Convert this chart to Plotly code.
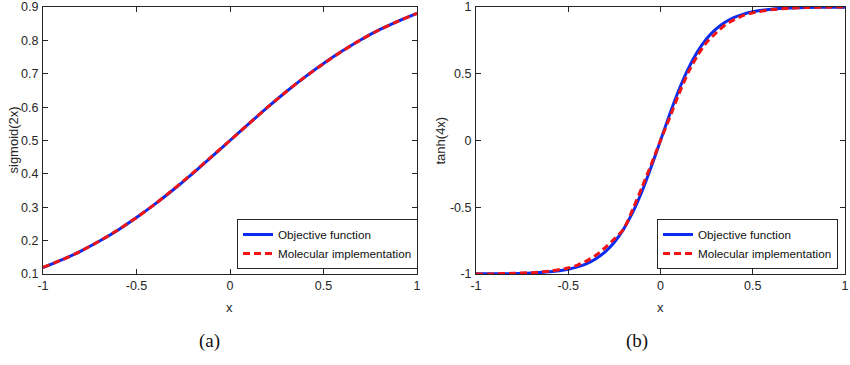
import plotly.graph_objects as go

# ---------------- data ----------------
x_sig = [-1.0, -0.9, -0.8, -0.7, -0.6, -0.5, -0.4, -0.3, -0.2, -0.1, 0.0,
         0.1, 0.2, 0.3, 0.4, 0.5, 0.6, 0.7, 0.8, 0.9, 1.0]
sig_objective = [0.119, 0.142, 0.168, 0.198, 0.231, 0.269, 0.310, 0.354, 0.401, 0.450, 0.500,
                 0.550, 0.599, 0.646, 0.690, 0.731, 0.768, 0.802, 0.832, 0.858, 0.881]
sig_molecular = [0.120, 0.142, 0.168, 0.198, 0.232, 0.269, 0.310, 0.355, 0.402, 0.451, 0.500,
                 0.550, 0.599, 0.646, 0.690, 0.730, 0.768, 0.802, 0.832, 0.858, 0.881]

x_tanh = [-1.0, -0.9, -0.8, -0.7, -0.6, -0.5, -0.45, -0.4, -0.35, -0.3, -0.25, -0.2, -0.15,
          -0.1, -0.05, 0.0, 0.05, 0.1, 0.15, 0.2, 0.25, 0.3, 0.35, 0.4, 0.45, 0.5,
          0.6, 0.7, 0.8, 0.9, 1.0]
tanh_objective = [-0.999, -0.998, -0.997, -0.993, -0.984, -0.964, -0.947, -0.922, -0.885, -0.834,
                  -0.762, -0.664, -0.537, -0.380, -0.197, 0.000, 0.197, 0.380, 0.537, 0.664,
                  0.762, 0.834, 0.885, 0.922, 0.947, 0.964, 0.984, 0.993, 0.997, 0.998, 0.999]
tanh_molecular = [-1.000, -0.999, -0.995, -0.990, -0.978, -0.955, -0.933, -0.902, -0.860, -0.803,
                  -0.737, -0.665, -0.515, -0.350, -0.178, 0.000, 0.172, 0.350, 0.508, 0.635,
                  0.735, 0.805, 0.865, 0.905, 0.937, 0.957, 0.979, 0.991, 0.997, 0.999, 1.000]

series_names = ["Objective function", "Molecular implementation"]
x_ticks = [-1, -0.5, 0, 0.5, 1]
x_tick_text = ["-1", "-0.5", "0", "0.5", "1"]
sig_ticks = [0.1, 0.2, 0.3, 0.4, 0.5, 0.6, 0.7, 0.8, 0.9]
sig_tick_text = ["0.1", "0.2", "0.3", "0.4", "0.5", "0.6", "0.7", "0.8", "0.9"]
tanh_ticks = [-1, -0.5, 0, 0.5, 1]
tanh_tick_text = ["-1", "-0.5", "0", "0.5", "1"]
x_title = "x"
y_titles = ["sigmoid(2x)", "tanh(4x)"]
panel_labels = ["(a)", "(b)"]

# ---------------- styling ----------------
W, H = 850, 365
BLUE = "#0a2cf2"
RED = "#f01414"
AX = "#262626"
FONT = "Liberation Sans, Arial, sans-serif"
SERIF = "Liberation Serif, Times New Roman, serif"

fig = go.Figure()

fig.add_trace(go.Scatter(x=x_sig, y=sig_objective, mode="lines", name=series_names[0],
                         line=dict(color=BLUE, width=3, shape="spline", smoothing=0.6),
                         xaxis="x", yaxis="y", legend="legend"))
fig.add_trace(go.Scatter(x=x_sig, y=sig_molecular, mode="lines", name=series_names[1],
                         line=dict(color=RED, width=3, dash="7px,4px", shape="spline", smoothing=0.6),
                         xaxis="x", yaxis="y", legend="legend"))
fig.add_trace(go.Scatter(x=x_tanh, y=tanh_objective, mode="lines", name=series_names[0],
                         line=dict(color=BLUE, width=3, shape="spline", smoothing=0.6),
                         xaxis="x2", yaxis="y2", legend="legend2"))
fig.add_trace(go.Scatter(x=x_tanh, y=tanh_molecular, mode="lines", name=series_names[1],
                         line=dict(color=RED, width=3, dash="7px,4px", shape="spline", smoothing=0.6),
                         xaxis="x2", yaxis="y2", legend="legend2"))


def px_x(p):
    return p / W


def px_y(p):
    return 1 - p / H


common_axis = dict(showline=True, linecolor=AX, linewidth=1, mirror="allticks",
                   ticks="inside", ticklen=5, tickcolor=AX, tickwidth=1,
                   showgrid=False, zeroline=False, automargin=False,
                   ticklabeloverflow="allow",
                   tickfont=dict(family=FONT, size=12.5, color=AX))

y_dom = [px_y(274), px_y(7)]
x1_dom = [px_x(43), px_x(417)]
x2_dom = [px_x(476), px_x(845)]

legend_common = dict(xanchor="right", yanchor="bottom",
                     bgcolor="white", bordercolor=AX, borderwidth=1,
                     font=dict(family=FONT, size=11.7, color="#111111"),
                     tracegroupgap=0, itemwidth=30)

fig.update_layout(
    width=W, height=H,
    margin=dict(l=0, r=0, t=0, b=0, autoexpand=False),
    paper_bgcolor="white", plot_bgcolor="white",
    font=dict(family=FONT, color=AX),
    xaxis=dict(domain=x1_dom, range=[-1, 1], anchor="y",
               tickvals=x_ticks, ticktext=x_tick_text, **common_axis),
    yaxis=dict(domain=y_dom, range=[0.1, 0.9], anchor="x", ticklabelstandoff=1,
               tickvals=sig_ticks, ticktext=sig_tick_text, **common_axis),
    xaxis2=dict(domain=x2_dom, range=[-1, 1], anchor="y2",
                tickvals=x_ticks, ticktext=x_tick_text, **common_axis),
    yaxis2=dict(domain=y_dom, range=[-1, 1], anchor="x2", ticklabelstandoff=1,
                tickvals=tanh_ticks, ticktext=tanh_tick_text, **common_axis),
    legend=dict(x=px_x(418), y=px_y(269), **legend_common),
    legend2=dict(x=px_x(838), y=px_y(269), **legend_common),
    showlegend=True,
)

# axis titles
for xc in [(x1_dom[0] + x1_dom[1]) / 2, (x2_dom[0] + x2_dom[1]) / 2]:
    fig.add_annotation(text=x_title, x=xc, y=px_y(307), xref="paper", yref="paper",
                       xanchor="center", yanchor="middle",
                       showarrow=False, font=dict(family=FONT, size=13, color=AX))
fig.add_annotation(text=y_titles[0], x=px_x(13), y=(y_dom[0] + y_dom[1]) / 2,
                   xref="paper", yref="paper", textangle=-90, showarrow=False,
                   xanchor="center", yanchor="middle",
                   font=dict(family=FONT, size=13, color=AX))
fig.add_annotation(text=y_titles[1], x=px_x(440), y=(y_dom[0] + y_dom[1]) / 2,
                   xref="paper", yref="paper", textangle=-90, showarrow=False,
                   xanchor="center", yanchor="middle",
                   font=dict(family=FONT, size=13, color=AX))

# panel labels
fig.add_annotation(text=panel_labels[0], x=px_x(209), y=px_y(341), xref="paper", yref="paper",
                   xanchor="center", yanchor="middle",
                   showarrow=False, font=dict(family=SERIF, size=19, color="#111111"))
fig.add_annotation(text=panel_labels[1], x=px_x(637), y=px_y(341), xref="paper", yref="paper",
                   xanchor="center", yanchor="middle",
                   showarrow=False, font=dict(family=SERIF, size=19, color="#111111"))

# remove the browser's default 8px body margin so the figure fills the window exactly
fig.write_html("out.html", config={"displayModeBar": False},
               post_script="document.body.style.margin='0px';")
